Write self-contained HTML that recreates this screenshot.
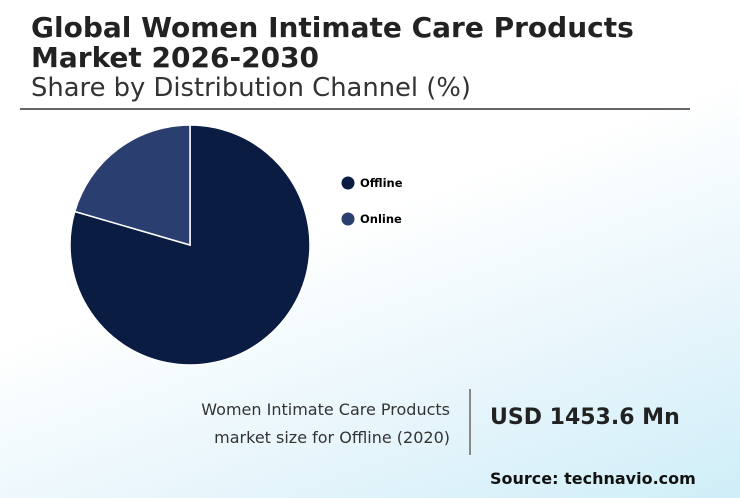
<!DOCTYPE html>
<html><head><meta charset="utf-8">
<style>
body{margin:0;width:740px;height:498px;overflow:hidden;font-family:"DejaVu Sans","Liberation Sans",sans-serif;}
#bg{position:absolute;left:0;top:0;width:740px;height:498px;background:linear-gradient(160deg,#ffffff 0%,#ffffff 45%,#e6f5fb 75%,#cfeef8 100%);}
.t{position:absolute;white-space:nowrap;color:#222;}
</style></head><body>
<div id="bg"></div>
<div class="t" style="left:31px;top:13px;font-size:28px;font-weight:bold;line-height:30px;">Global Women Intimate Care Products<br>Market 2026-2030</div>
<div class="t" style="left:31px;top:73px;font-size:25.8px;line-height:30px;color:#333;">Share by Distribution Channel (%)</div>
<div style="position:absolute;left:20px;top:108px;width:670px;height:2px;background:#666;"></div>
<svg id="chart" width="740" height="498" style="position:absolute;left:0;top:0"></svg>
<div class="t" style="left:150px;top:396px;width:300px;text-align:right;font-size:16px;line-height:28px;color:#333;">Women Intimate Care Products<br>market size for Offline (2020)</div>
<div style="position:absolute;left:469px;top:389px;width:2px;height:66px;background:#888;"></div>
<div class="t" style="left:490px;top:405px;font-size:22px;font-weight:bold;">USD 1453.6 Mn</div>
<div class="t" style="left:490px;top:469px;font-size:16px;font-weight:bold;color:#111;">Source: technavio.com</div>
<script>
const categories=["Offline","Online"];
const values=[79.5,20.5];
const colors=["#0a1c42","#2a3f70"];
const svg=document.getElementById('chart');
const NS="http://www.w3.org/2000/svg";
const cx=190,cy=245,r=120;
const total=values.reduce((a,b)=>a+b,0);
let a0=0;
values.forEach((v,i)=>{
  const a1=a0+v/total*2*Math.PI;
  const x0=cx+r*Math.sin(a0),y0=cy-r*Math.cos(a0),x1=cx+r*Math.sin(a1),y1=cy-r*Math.cos(a1);
  const p=document.createElementNS(NS,'path');
  p.setAttribute('d',`M${cx},${cy}L${x0},${y0}A${r},${r} 0 ${(a1-a0)>Math.PI?1:0} 1 ${x1},${y1}Z`);
  p.setAttribute('fill',colors[i]);p.setAttribute('stroke','#fff');p.setAttribute('stroke-width','1.5');
  
  
  svg.appendChild(p);
  const c=document.createElementNS(NS,'circle');
  c.setAttribute('cx',348);c.setAttribute('cy',183+i*36);c.setAttribute('r',6.5);c.setAttribute('fill',colors[i]);
  
  
  svg.appendChild(c);
  const t=document.createElementNS(NS,'text');
  t.setAttribute('x',360);t.setAttribute('y',187+i*36);t.setAttribute('font-size','11.5');t.setAttribute('font-weight','bold');
  t.setAttribute('font-family','DejaVu Sans, Liberation Sans, sans-serif');t.textContent=categories[i];
  
  
  svg.appendChild(t);
  a0=a1;
});
</script>
</body></html>
